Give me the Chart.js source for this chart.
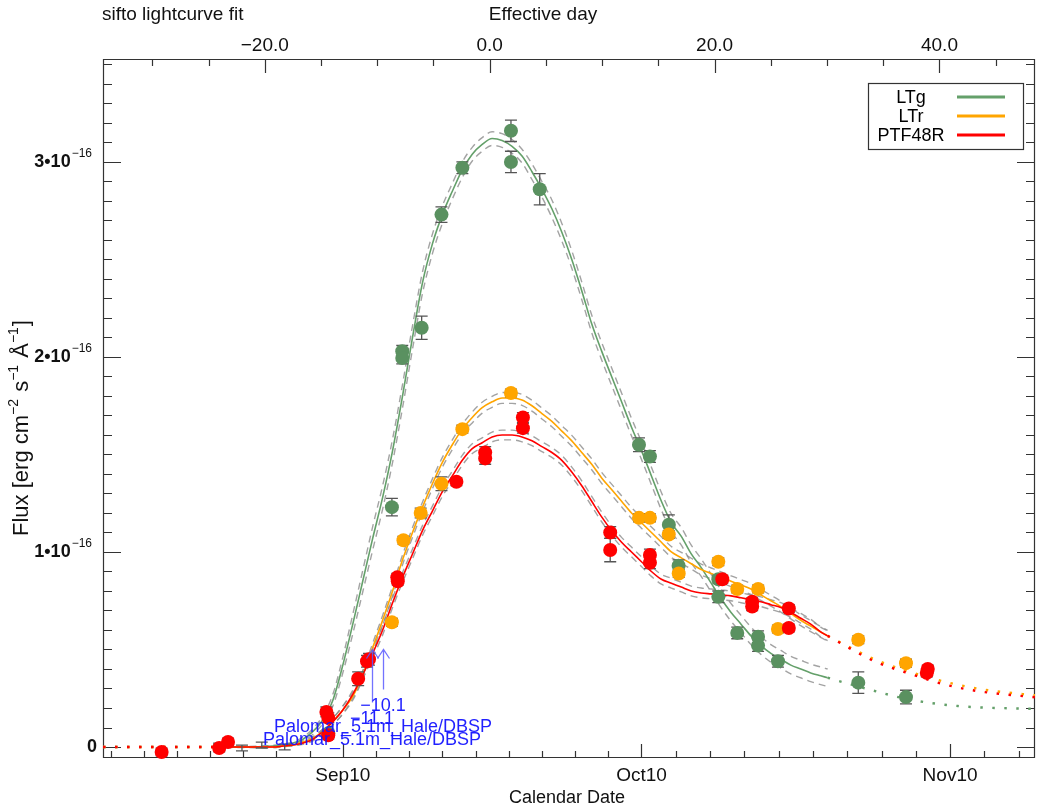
<!DOCTYPE html>
<html><head><meta charset="utf-8">
<script src="https://cdn.jsdelivr.net/npm/chart.js@4.4.1/dist/chart.umd.min.js"></script>
<style>html,body{margin:0;padding:0;background:#fff}canvas{display:block}</style>
</head><body>
<canvas id="c" width="1042" height="810"></canvas>
<script>
// ---------------- DATA (flux in units of 1e-16 erg cm^-2 s^-1 A^-1; x = calendar days after Sep 10) -------------
const X_MIN = -24.09, X_MAX = 69.53;          // calendar-day range of the bottom axis
const Y_MIN = -0.0564, Y_MAX = 3.528;         // flux range (1e-16)
const PEAK_DAY = 14.75, STRETCH = 1.1296;     // effective day = (day - PEAK_DAY) / STRETCH

const dateTickDays = [0, 30, 61];
const dateTickLabels = ['Sep10', 'Oct10', 'Nov10'];
const effTickValues = [-20, 0, 20, 40];
const effTickLabels = ['\u221220.0', '0.0', '20.0', '40.0'];
const fluxTickValues = [0, 1, 2, 3];
const fluxTickExp = '\u221216';

// photometry
const ltgDays = [-1.46, 4.93, 5.97, 5.97, 7.92, 9.91, 12.01, 16.89, 16.89, 19.78, 29.75, 30.85, 32.75, 33.73, 37.72, 37.72, 39.62, 41.71, 41.71, 43.71, 51.78, 56.57];
const ltgFlux = [0.07, 1.23, 2.03, 1.995, 2.15, 2.73, 2.97, 3.16, 3.00, 2.86, 1.55, 1.49, 1.14, 0.93, 0.86, 0.77, 0.585, 0.565, 0.52, 0.44, 0.33, 0.256];
const ltgErr  = [0.02, 0.045, 0.03, 0.03, 0.06, 0.04, 0.03, 0.055, 0.055, 0.08, 0.035, 0.03, 0.05, 0.03, 0.02, 0.03, 0.03, 0.03, 0.03, 0.03, 0.055, 0.035];

const ltgPreDays = [-12.42, -10.13, -8.14, -5.84];
const ltgPreFlux = [0.005, -0.005, 0.01, 0.0];
const ltgPreErr  = [0.015, 0.015, 0.015, 0.015];

const ltrDays = [4.93, 6.09, 7.82, 9.91, 12.01, 16.89, 29.75, 30.85, 32.74, 33.74, 37.72, 39.62, 41.72, 43.71, 51.78, 56.57];
const ltrFlux = [0.64, 1.06, 1.20, 1.35, 1.63, 1.815, 1.175, 1.175, 1.09, 0.89, 0.95, 0.81, 0.81, 0.605, 0.55, 0.43];
const ltrErr  = [0.02, 0.02, 0.025, 0.035, 0.02, 0.02, 0.02, 0.02, 0.02, 0.02, 0.02, 0.02, 0.02, 0.02, 0.02, 0.02];

const ptfDays = [-18.2, -12.42, -11.53, -1.65, -1.46, -1.46, 1.54, 2.43, 2.63, 5.47, 5.52, 11.41, 14.3, 14.3, 18.09, 18.09, 26.86, 26.86, 30.85, 30.85, 38.12, 41.12, 41.12, 44.8, 44.8, 58.66, 58.76];
const ptfFlux = [-0.026, -0.005, 0.026, 0.18, 0.15, 0.06, 0.35, 0.44, 0.45, 0.87, 0.85, 1.36, 1.48, 1.51, 1.69, 1.635, 1.10, 1.01, 0.985, 0.945, 0.86, 0.745, 0.72, 0.71, 0.61, 0.38, 0.40];
const ptfErr  = [0.02, 0.02, 0.02, 0.025, 0.025, 0.02, 0.035, 0.03, 0.03, 0.02, 0.02, 0.02, 0.03, 0.03, 0.025, 0.025, 0.03, 0.06, 0.03, 0.03, 0.02, 0.02, 0.02, 0.02, 0.02, 0.02, 0.02];

// sifto fits (solid), sampled in calendar days
const fitDays = [-13, -10, -7, -6, -5, -4, -3, -2, -1, 0, 1, 2, 3, 4, 5, 6, 7, 8, 9, 10, 11, 12, 13, 14, 15, 16, 17, 18, 19, 20, 21, 22, 23, 24, 25, 26, 27, 28, 29, 30, 31, 32, 33, 34, 35, 36, 37, 38, 39, 40, 41, 42, 43, 44, 45, 46, 47, 48, 48.7];
const ltgFit = [0, 0, 0.005, 0.01, 0.02, 0.04, 0.08, 0.14, 0.24, 0.42, 0.63, 0.85, 1.07, 1.28, 1.52, 1.80, 2.10, 2.38, 2.58, 2.73, 2.85, 2.96, 3.04, 3.09, 3.12, 3.11, 3.08, 3.03, 2.95, 2.86, 2.76, 2.64, 2.50, 2.34, 2.17, 2.03, 1.90, 1.77, 1.64, 1.52, 1.39, 1.26, 1.15, 1.08, 0.99, 0.92, 0.84, 0.76, 0.69, 0.63, 0.57, 0.52, 0.48, 0.45, 0.42, 0.40, 0.38, 0.365, 0.355];
const ltrFit = [0, 0, 0, 0.005, 0.01, 0.025, 0.045, 0.08, 0.13, 0.19, 0.26, 0.37, 0.51, 0.65, 0.80, 0.96, 1.10, 1.23, 1.35, 1.46, 1.55, 1.63, 1.69, 1.74, 1.77, 1.79, 1.79, 1.78, 1.75, 1.71, 1.67, 1.62, 1.57, 1.51, 1.45, 1.38, 1.32, 1.26, 1.20, 1.15, 1.10, 1.05, 1.00, 0.97, 0.94, 0.91, 0.89, 0.87, 0.85, 0.83, 0.81, 0.78, 0.75, 0.72, 0.685, 0.65, 0.62, 0.59, 0.57];
const ptfFit = [0, 0, 0, 0.005, 0.01, 0.02, 0.04, 0.08, 0.13, 0.19, 0.27, 0.37, 0.48, 0.60, 0.74, 0.87, 0.99, 1.11, 1.21, 1.31, 1.39, 1.47, 1.53, 1.56, 1.59, 1.60, 1.60, 1.59, 1.57, 1.54, 1.51, 1.47, 1.41, 1.34, 1.26, 1.18, 1.11, 1.05, 1.00, 0.95, 0.90, 0.86, 0.84, 0.82, 0.80, 0.79, 0.785, 0.78, 0.775, 0.765, 0.755, 0.745, 0.73, 0.715, 0.69, 0.66, 0.63, 0.59, 0.57];

// half-width of the fit uncertainty envelopes (dashed grey)
const ltgEnv = [0.003, 0.003, 0.004, 0.005, 0.007, 0.01, 0.015, 0.02, 0.03, 0.04, 0.05, 0.055, 0.06, 0.06, 0.06, 0.06, 0.06, 0.055, 0.05, 0.045, 0.04, 0.04, 0.035, 0.035, 0.035, 0.035, 0.035, 0.035, 0.04, 0.04, 0.045, 0.045, 0.045, 0.045, 0.045, 0.045, 0.045, 0.045, 0.045, 0.045, 0.045, 0.045, 0.045, 0.045, 0.045, 0.045, 0.045, 0.045, 0.045, 0.045, 0.045, 0.045, 0.045, 0.045, 0.045, 0.045, 0.045, 0.045, 0.045];
const ltrEnv = [0.002, 0.002, 0.003, 0.003, 0.004, 0.006, 0.008, 0.012, 0.016, 0.02, 0.02, 0.02, 0.022, 0.025, 0.025, 0.025, 0.025, 0.025, 0.025, 0.025, 0.025, 0.025, 0.028, 0.028, 0.028, 0.028, 0.028, 0.028, 0.028, 0.028, 0.028, 0.028, 0.028, 0.028, 0.028, 0.028, 0.028, 0.028, 0.028, 0.028, 0.028, 0.028, 0.028, 0.028, 0.028, 0.028, 0.028, 0.028, 0.028, 0.028, 0.028, 0.028, 0.028, 0.028, 0.028, 0.028, 0.028, 0.028, 0.028];
const ptfEnv = [0.002, 0.002, 0.003, 0.003, 0.004, 0.006, 0.008, 0.012, 0.016, 0.02, 0.02, 0.02, 0.022, 0.025, 0.025, 0.025, 0.025, 0.025, 0.025, 0.025, 0.025, 0.025, 0.025, 0.025, 0.025, 0.025, 0.025, 0.025, 0.025, 0.025, 0.025, 0.025, 0.025, 0.025, 0.025, 0.025, 0.025, 0.025, 0.025, 0.025, 0.025, 0.025, 0.025, 0.025, 0.025, 0.025, 0.025, 0.025, 0.025, 0.025, 0.025, 0.025, 0.025, 0.025, 0.025, 0.025, 0.025, 0.025, 0.025];

// dotted extrapolations outside the fitted range
const leadDays = [-24.09, -13];
const leadFlux = [0, 0];
const ltgTailDays = [48.7, 51.8, 56.8, 61.8, 69.53];
const ltgTailFlux = [0.355, 0.31, 0.245, 0.21, 0.195];
const ltrTailDays = [48.7, 53.4, 57.3, 61.7, 65.0, 69.53];
const ltrTailFlux = [0.57, 0.45, 0.38, 0.32, 0.29, 0.265];
const ptfTailDays = [48.7, 53.4, 57.3, 60.5, 64.0, 69.53];
const ptfTailFlux = [0.57, 0.44, 0.37, 0.32, 0.285, 0.255];

// spectra epochs
const specDays = [4.03, 2.93];
const specPhase = ['\u221210.1', '\u221211.1'];
const specTelescope = ['Palomar_5.1m_Hale/DBSP', 'Palomar_5.1m_Hale/DBSP'];

// ---------------- STYLE ----------------
const FONT = '"Liberation Sans", Arial, Helvetica, sans-serif';
const AXIS_COLOR = '#333';
const GREEN_PT = '#5a9160', GREEN_LN = '#64a06a';
const ORANGE = '#ffa500', RED = '#ff0000';
const ENV_COLOR = 'rgba(140,140,140,0.8)';
const ERR_COLOR = '#555';

const pts = (xs, ys) => xs.map((x, i) => ({x, y: ys[i]}));
const shifted = (xs, ys, hw, s) => xs.map((x, i) => ({x, y: ys[i] + s * hw[i]}));

function curve(label, xs, ys, color, order, extra) {
  return Object.assign({label, data: pts(xs, ys), showLine: true, pointRadius: 0, borderColor: color,
    borderWidth: 1.6, fill: false, order, cubicInterpolationMode: 'monotone'}, extra || {});
}
function envelope(xs, ys, hw, s) {
  return {label: 'env', data: shifted(xs, ys, hw, s), showLine: true, pointRadius: 0, borderColor: ENV_COLOR,
    borderWidth: 1.4, borderDash: [7, 5], fill: false, order: 20, cubicInterpolationMode: 'monotone'};
}
function dotted(xs, ys, color, order) {
  return curve('ext', xs, ys, color, order, {borderWidth: 2.4, borderDash: [2.5, 9.5]});
}
function points(label, xs, ys, errs, color, order, radius) {
  return {label, data: pts(xs, ys), errors: errs, pointRadius: radius, pointHoverRadius: radius,
    pointBackgroundColor: color, pointBorderWidth: 0, borderColor: color, showLine: false, order, clip: 10};
}

const datasets = [
  envelope(fitDays, ltgFit, ltgEnv, 1), envelope(fitDays, ltgFit, ltgEnv, -1),
  envelope(fitDays, ltrFit, ltrEnv, 1), envelope(fitDays, ltrFit, ltrEnv, -1),
  envelope(fitDays, ptfFit, ptfEnv, 1), envelope(fitDays, ptfFit, ptfEnv, -1),
  dotted(leadDays, leadFlux, GREEN_LN, 16), dotted(leadDays, leadFlux, ORANGE, 15), dotted(leadDays, leadFlux, RED, 14),
  dotted(ltgTailDays, ltgTailFlux, GREEN_LN, 16), dotted(ltrTailDays, ltrTailFlux, ORANGE, 15), dotted(ptfTailDays, ptfTailFlux, RED, 14),
  curve('LTg', fitDays, ltgFit, GREEN_LN, 13),
  curve('LTr', fitDays, ltrFit, ORANGE, 12),
  curve('PTF48R', fitDays, ptfFit, RED, 11),
  points('LTg pre', ltgPreDays, ltgPreFlux, ltgPreErr, GREEN_PT, 6, 0),
  points('LTg', ltgDays, ltgFlux, ltgErr, GREEN_PT, 5, 7),
  points('LTr', ltrDays, ltrFlux, ltrErr, ORANGE, 4, 7),
  points('PTF48R', ptfDays, ptfFlux, ptfErr, RED, 3, 7)
];
const legendItems = [['LTg', GREEN_LN], ['LTr', ORANGE], ['PTF48R', RED]];

// ---------------- PLUGINS ----------------
const errorBars = {
  id: 'errorBars',
  beforeDatasetDraw(chart, args) {
    const ds = chart.data.datasets[args.index];
    if (!ds.errors) return;
    const {ctx} = chart, xs = chart.scales.x, ys = chart.scales.y;
    ctx.save();
    ctx.strokeStyle = ERR_COLOR; ctx.lineWidth = 1.3;
    ds.data.forEach((p, i) => {
      const e = ds.errors[i], px = xs.getPixelForValue(p.x);
      const y1 = ys.getPixelForValue(p.y + e), y2 = ys.getPixelForValue(p.y - e);
      ctx.beginPath();
      ctx.moveTo(px, y1); ctx.lineTo(px, y2);
      ctx.moveTo(px - 6, y1); ctx.lineTo(px + 6, y1);
      ctx.moveTo(px - 6, y2); ctx.lineTo(px + 6, y2);
      ctx.stroke();
    });
    ctx.restore();
  }
};

const frame = {
  id: 'frame',
  beforeDatasetsDraw(chart) {
    const {ctx, chartArea: a, scales} = chart;
    const x = scales.x, y = scales.y, xt = scales.xTop;
    ctx.save();
    ctx.strokeStyle = AXIS_COLOR; ctx.lineWidth = 1.2;
    ctx.beginPath();
    ctx.moveTo(a.left + 0.5, a.top); ctx.lineTo(a.left + 0.5, a.bottom);
    ctx.moveTo(a.left, a.top + 0.5); ctx.lineTo(a.right, a.top + 0.5);
    ctx.moveTo(a.left, a.bottom - 0.5); ctx.lineTo(a.right, a.bottom - 0.5);
    ctx.moveTo(a.right - 0.5, a.top); ctx.lineTo(a.right - 0.5, a.bottom);
    for (let k = 0; k <= 35; k++) {
      const v = k / 10; if (v < Y_MIN || v > Y_MAX) continue;
      const py = Math.round(y.getPixelForValue(v)) + 0.5, len = k % 10 === 0 ? 18 : 9;
      ctx.moveTo(a.left, py); ctx.lineTo(a.left + len, py);
      ctx.moveTo(a.right, py); ctx.lineTo(a.right - len, py);
    }
    for (let e = -30; e <= 45; e += 5) {
      const px = Math.round(xt.getPixelForValue(e)) + 0.5, len = e % 20 === 0 ? 14 : 7;
      ctx.moveTo(px, a.top); ctx.lineTo(px, a.top + len);
    }
    const minor = [];
    const first = dateTickDays[0], last = dateTickDays[dateTickDays.length - 1];
    for (let d = first - 10 / 3; d >= X_MIN; d -= 10 / 3) minor.push(d);
    for (let i = 0; i < dateTickDays.length - 1; i++) {
      const s = (dateTickDays[i + 1] - dateTickDays[i]) / 9;
      for (let j = 1; j < 9; j++) minor.push(dateTickDays[i] + j * s);
    }
    const sl = (last - dateTickDays[dateTickDays.length - 2]) / 9;
    for (let d = last + sl; d <= X_MAX; d += sl) minor.push(d);
    minor.forEach(d => { const px = Math.round(x.getPixelForValue(d)) + 0.5; ctx.moveTo(px, a.bottom); ctx.lineTo(px, a.bottom - 7); });
    dateTickDays.forEach(d => { const px = Math.round(x.getPixelForValue(d)) + 0.5; ctx.moveTo(px, a.bottom); ctx.lineTo(px, a.bottom - 14); });
    ctx.stroke();
    ctx.restore();
  },
  afterDraw(chart) {
    const {ctx, chartArea: a, scales} = chart;
    const x = scales.x, y = scales.y, xt = scales.xTop;
    ctx.save();
    ctx.fillStyle = '#111';
    ctx.textBaseline = 'middle';
    ctx.font = '19px ' + FONT;
    ctx.textAlign = 'left'; ctx.fillText('sifto lightcurve fit', 102, 15);
    ctx.textAlign = 'center'; ctx.fillText('Effective day', 543, 15);
    effTickValues.forEach((e, i) => ctx.fillText(effTickLabels[i], xt.getPixelForValue(e), 46));
    dateTickDays.forEach((d, i) => ctx.fillText(dateTickLabels[i], x.getPixelForValue(d), 776));
    ctx.font = '18px ' + FONT;
    ctx.fillText('Calendar Date', (a.left + a.right) / 2 - 2, 798);
    fluxTickValues.forEach(v => {
      const py = y.getPixelForValue(v);
      if (v === 0) { ctx.font = 'bold 18px ' + FONT; ctx.textAlign = 'right'; ctx.fillText('0', 97, py); return; }
      ctx.font = '12px ' + FONT; ctx.textAlign = 'right';
      const ew = ctx.measureText(fluxTickExp).width;
      ctx.fillText(fluxTickExp, 92, py - 8);
      ctx.font = 'bold 18px ' + FONT;
      ctx.fillText(v + '\u202210', 92 - ew - 1, py);
    });
    // y axis title with superscripts
    const parts = [['Flux [erg cm', 0], ['\u22122', 1], [' s', 0], ['\u22121', 1], [' \u00c5', 0], ['\u22121', 1], [']', 0]];
    const f0 = '22px ' + FONT, f1 = '14px ' + FONT;
    let tw = 0;
    parts.forEach(p => { ctx.font = p[1] ? f1 : f0; tw += ctx.measureText(p[0]).width + (p[1] ? 1 : 0); });
    ctx.translate(22, 428); ctx.rotate(-Math.PI / 2);
    ctx.textAlign = 'left';
    let cx = -tw / 2;
    parts.forEach(p => { ctx.font = p[1] ? f1 : f0; ctx.fillText(p[0], cx, p[1] ? -8 : 0); cx += ctx.measureText(p[0]).width + (p[1] ? 1 : 0); });
    ctx.restore();
  }
};

const legendBox = {
  id: 'legendBox',
  afterDatasetsDraw(chart) {
    const {ctx} = chart;
    ctx.save();
    ctx.fillStyle = '#fff'; ctx.fillRect(868, 83, 155, 66);
    ctx.strokeStyle = '#333'; ctx.lineWidth = 1.2; ctx.strokeRect(868.5, 83.5, 155, 66);
    ctx.font = '18px ' + FONT; ctx.textAlign = 'center'; ctx.textBaseline = 'middle';
    legendItems.forEach((it, i) => {
      const ly = 97 + i * 19;
      ctx.fillStyle = '#000'; ctx.fillText(it[0], 911, ly + 1);
      ctx.strokeStyle = it[1]; ctx.lineWidth = 3;
      ctx.beginPath(); ctx.moveTo(957, ly); ctx.lineTo(1005, ly); ctx.stroke();
    });
    ctx.restore();
  }
};

const spectra = {
  id: 'spectra',
  afterDatasetsDraw(chart) {
    const {ctx} = chart, x = chart.scales.x, y = chart.scales.y;
    const lens = [40, 53];
    ctx.save();
    specDays.forEach((d, i) => {
      const px = Math.round(x.getPixelForValue(d)) + 0.5, top = y.getPixelForValue(0.5), bot = top + lens[i];
      ctx.strokeStyle = 'rgba(90,90,255,0.85)'; ctx.lineWidth = 1.3;
      ctx.beginPath(); ctx.moveTo(px, top); ctx.lineTo(px, bot);
      ctx.moveTo(px - 6, top + 9); ctx.lineTo(px, top); ctx.lineTo(px + 6, top + 9); ctx.stroke();
    });
    ctx.fillStyle = 'rgba(20,20,255,0.95)'; ctx.font = '18px ' + FONT; ctx.textAlign = 'center'; ctx.textBaseline = 'middle';
    specDays.forEach((d, i) => {
      const px = x.getPixelForValue(d), top = y.getPixelForValue(0.5), bot = top + lens[i];
      ctx.fillText(specPhase[i], px, bot + 17);
    });
    specDays.forEach((d, i) => {
      const px = x.getPixelForValue(d), top = y.getPixelForValue(0.5), bot = top + lens[i];
      ctx.fillText(specTelescope[i], px, bot + 38);
    });
    ctx.restore();
  }
};

// ---------------- CHART ----------------
Chart.defaults.font.family = FONT;
new Chart(document.getElementById('c'), {
  type: 'scatter',
  data: {datasets},
  options: {
    responsive: false, animation: false, devicePixelRatio: 1,
    layout: {padding: 0},
    plugins: {legend: {display: false}, tooltip: {enabled: false}},
    events: [],
    scales: {
      x: {type: 'linear', position: 'bottom', min: X_MIN, max: X_MAX,
          grid: {display: false}, border: {display: false}, ticks: {display: false},
          afterFit: s => { s.height = 52; }},
      xTop: {type: 'linear', position: 'top', min: (X_MIN - PEAK_DAY) / STRETCH, max: (X_MAX - PEAK_DAY) / STRETCH,
          grid: {display: false}, border: {display: false}, ticks: {display: false},
          afterFit: s => { s.height = 59; }},
      y: {type: 'linear', position: 'left', min: Y_MIN, max: Y_MAX,
          grid: {display: false}, border: {display: false}, ticks: {display: false},
          afterFit: s => { s.width = 103; }}
    }
  },
  plugins: [errorBars, frame, legendBox, spectra]
});
</script></body></html>
